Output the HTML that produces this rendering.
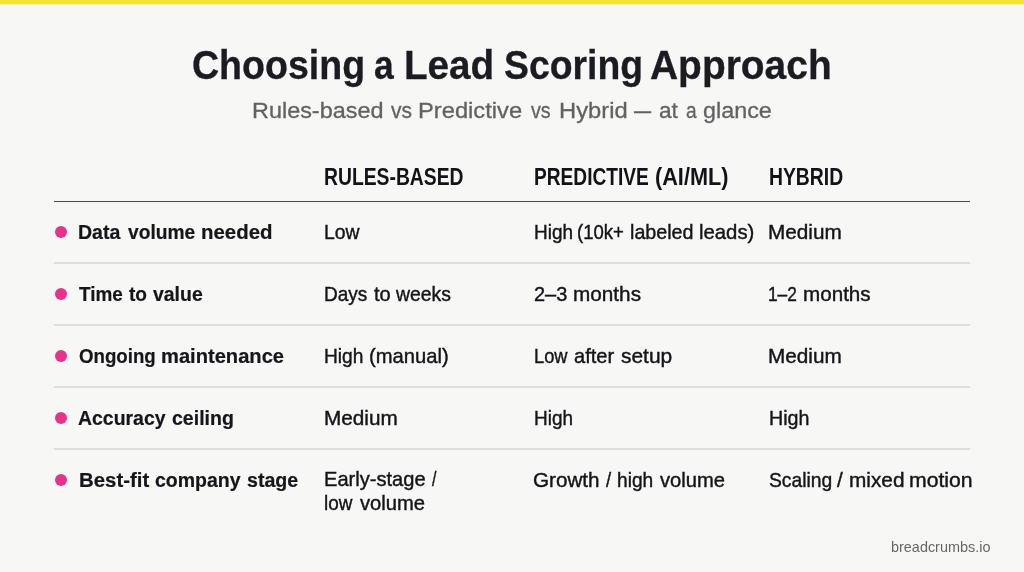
<!DOCTYPE html>
<html lang="en">
<head>
<meta charset="utf-8">
<title>Choosing a Lead Scoring Approach</title>
<style>
  html,body{margin:0;padding:0;}
  body{width:1024px;height:572px;overflow:hidden;background:#f7f7f6;font-family:"Liberation Sans",sans-serif;color:#1a1b20;position:relative;}
  .bar{position:absolute;left:0;top:0;width:1024px;height:4px;background:#f2e436;}
  .bar2{position:absolute;left:0;top:4px;width:1024px;height:3px;background:linear-gradient(#f6ee8e,#fbfaf4 50%,#f8f8f7);}
  h1,p,div.hd,div.lab,div.c,div.ft{position:absolute;left:0;margin:0;width:1024px;line-height:1;white-space:nowrap;}
  h1 span,p span,div span{position:absolute;top:0;display:block;transform-origin:0 0;white-space:nowrap;}
  .ttl{font-size:40.5px;font-weight:bold;color:#1b1c22;height:41px;-webkit-text-stroke:0.3px #1b1c22;}
  .sub{font-size:22px;color:#626262;height:22px;-webkit-text-stroke:0.3px #626262;}
  .hd{font-size:23px;font-weight:bold;color:#121316;height:23px;}
  .lab{font-size:20px;font-weight:bold;color:#15161a;height:20px;-webkit-text-stroke:0.2px #15161a;}
  .c{font-size:20.8px;color:#141518;height:21px;-webkit-text-stroke:0.42px #141518;}
  .ft{font-size:14.6px;color:#666;height:15px;}
  .ln{position:absolute;left:54px;width:916px;height:2px;background:#dddddc;}
  .ln.h{height:1px;background:#4a4a4a;}
  .dot{position:absolute;left:54.75px;width:12.5px;height:12.5px;border-radius:50%;background:#e9328a;}
</style>
</head>
<body>
<div class="bar"></div><div class="bar2"></div>
<div class="ln h" style="top:201px"></div>
<div class="ln" style="top:262px"></div>
<div class="ln" style="top:324px"></div>
<div class="ln" style="top:386px"></div>
<div class="ln" style="top:448px"></div>
<div class="dot" style="top:225.5px"></div>
<div class="dot" style="top:287.5px"></div>
<div class="dot" style="top:349.5px"></div>
<div class="dot" style="top:411.5px"></div>
<div class="dot" style="top:473.5px"></div>
<h1 class="ttl" style="top:45px"><span style="left:191.93px;transform:scaleX(0.9269)">Choosing</span> <span style="left:374.43px;transform:scaleX(0.8755)">a</span> <span style="left:403.99px;transform:scaleX(0.9546)">Lead</span> <span style="left:504.09px;transform:scaleX(0.9221)">Scoring</span> <span style="left:650.33px;transform:scaleX(0.9611)">Approach</span></h1>
<p class="sub" style="top:100px"><span style="left:252.12px;transform:scaleX(1.0644)">Rules-based</span> <span style="left:391.25px;transform:scaleX(0.9546)">vs</span> <span style="left:418.34px;transform:scaleX(1.0775)">Predictive</span> <span style="left:531.15px;transform:scaleX(0.8970)">vs</span> <span style="left:558.51px;transform:scaleX(1.0793)">Hybrid</span> <span style="left:634.2px;transform:scaleX(0.7764)">—</span> <span style="left:659.02px;transform:scaleX(1.0309)">at</span> <span style="left:686.06px;transform:scaleX(0.8695)">a</span> <span style="left:703.11px;transform:scaleX(1.0610)">glance</span></p>
<div class="hd" style="top:166px"><span style="left:324.16px;transform:scaleX(0.8398)">RULES-BASED</span></div>
<div class="hd" style="top:166px"><span style="left:533.69px;transform:scaleX(0.8324)">PREDICTIVE</span> <span style="left:655.23px;transform:scaleX(0.9422)">(AI/ML)</span></div>
<div class="hd" style="top:166px"><span style="left:768.66px;transform:scaleX(0.8408)">HYBRID</span></div>
<div class="lab" style="top:222px"><span style="left:78.32px;transform:scaleX(0.9769)">Data</span> <span style="left:127.64px;transform:scaleX(0.9598)">volume</span> <span style="left:200.58px;transform:scaleX(1.0207)">needed</span></div>
<div class="c" style="top:222px"><span style="left:324.03px;transform:scaleX(0.9333)">Low</span></div>
<div class="c" style="top:222px"><span style="left:533.57px;transform:scaleX(0.9120)">High</span> <span style="left:577.36px;transform:scaleX(0.8910)">(10k+</span> <span style="left:630.13px;transform:scaleX(0.9473)">labeled</span> <span style="left:699.17px;transform:scaleX(0.9769)">leads)</span></div>
<div class="c" style="top:222px"><span style="left:768.36px;transform:scaleX(0.9971)">Medium</span></div>
<div class="lab" style="top:284px"><span style="left:78.56px;transform:scaleX(0.9467)">Time</span> <span style="left:129.09px;transform:scaleX(0.9538)">to</span> <span style="left:153.14px;transform:scaleX(0.9717)">value</span></div>
<div class="c" style="top:284px"><span style="left:324.06px;transform:scaleX(0.9146)">Days</span> <span style="left:373.6px;transform:scaleX(0.9632)">to</span> <span style="left:396.47px;transform:scaleX(0.9315)">weeks</span></div>
<div class="c" style="top:284px"><span style="left:533.53px;transform:scaleX(0.9607)">2–3</span> <span style="left:572.53px;transform:scaleX(0.9972)">months</span></div>
<div class="c" style="top:284px"><span style="left:767.75px;transform:scaleX(0.8306)">1–2</span> <span style="left:802.54px;transform:scaleX(0.9920)">months</span></div>
<div class="lab" style="top:346px"><span style="left:78.62px;transform:scaleX(0.9334)">Ongoing</span> <span style="left:160.61px;transform:scaleX(1.0063)">maintenance</span></div>
<div class="c" style="top:346px"><span style="left:324.06px;transform:scaleX(0.9207)">High</span> <span style="left:368.7px;transform:scaleX(0.9705)">(manual)</span></div>
<div class="c" style="top:346px"><span style="left:533.66px;transform:scaleX(0.8795)">Low</span> <span style="left:574.05px;transform:scaleX(0.9655)">after</span> <span style="left:621.44px;transform:scaleX(1.0069)">setup</span></div>
<div class="c" style="top:346px"><span style="left:768.36px;transform:scaleX(0.9971)">Medium</span></div>
<div class="lab" style="top:408px"><span style="left:78.31px;transform:scaleX(0.9724)">Accuracy</span> <span style="left:172.03px;transform:scaleX(0.9758)">ceiling</span></div>
<div class="c" style="top:408px"><span style="left:323.86px;transform:scaleX(0.9971)">Medium</span></div>
<div class="c" style="top:408px"><span style="left:533.57px;transform:scaleX(0.9120)">High</span></div>
<div class="c" style="top:408px"><span style="left:768.5px;transform:scaleX(0.9457)">High</span></div>
<div class="lab" style="top:470px"><span style="left:78.58px;transform:scaleX(1.0191)">Best-fit</span> <span style="left:154.54px;transform:scaleX(0.9747)">company</span> <span style="left:246.52px;transform:scaleX(0.9792)">stage</span></div>
<div class="c" style="top:469px"><span style="left:323.95px;transform:scaleX(0.9654)">Early-stage</span> <span style="left:432.33px;transform:scaleX(0.7658)">/</span></div>
<div class="c" style="top:493px"><span style="left:324.31px;transform:scaleX(0.9096)">low</span> <span style="left:359.75px;transform:scaleX(0.9711)">volume</span></div>
<div class="c" style="top:470px"><span style="left:532.72px;transform:scaleX(0.9934)">Growth</span> <span style="left:605.82px;transform:scaleX(0.8869)">/</span> <span style="left:617.26px;transform:scaleX(0.9218)">high</span> <span style="left:659.75px;transform:scaleX(0.9711)">volume</span></div>
<div class="c" style="top:470px"><span style="left:768.92px;transform:scaleX(0.9263)">Scaling</span> <span style="left:837.32px;transform:scaleX(0.9991)">/</span> <span style="left:849.12px;transform:scaleX(1.0002)">mixed</span> <span style="left:909.1px;transform:scaleX(1.0196)">motion</span></div>
<div class="ft" style="top:540px"><span style="left:890.74px;transform:scaleX(0.9888)">breadcrumbs.io</span></div>
</body>
</html>
